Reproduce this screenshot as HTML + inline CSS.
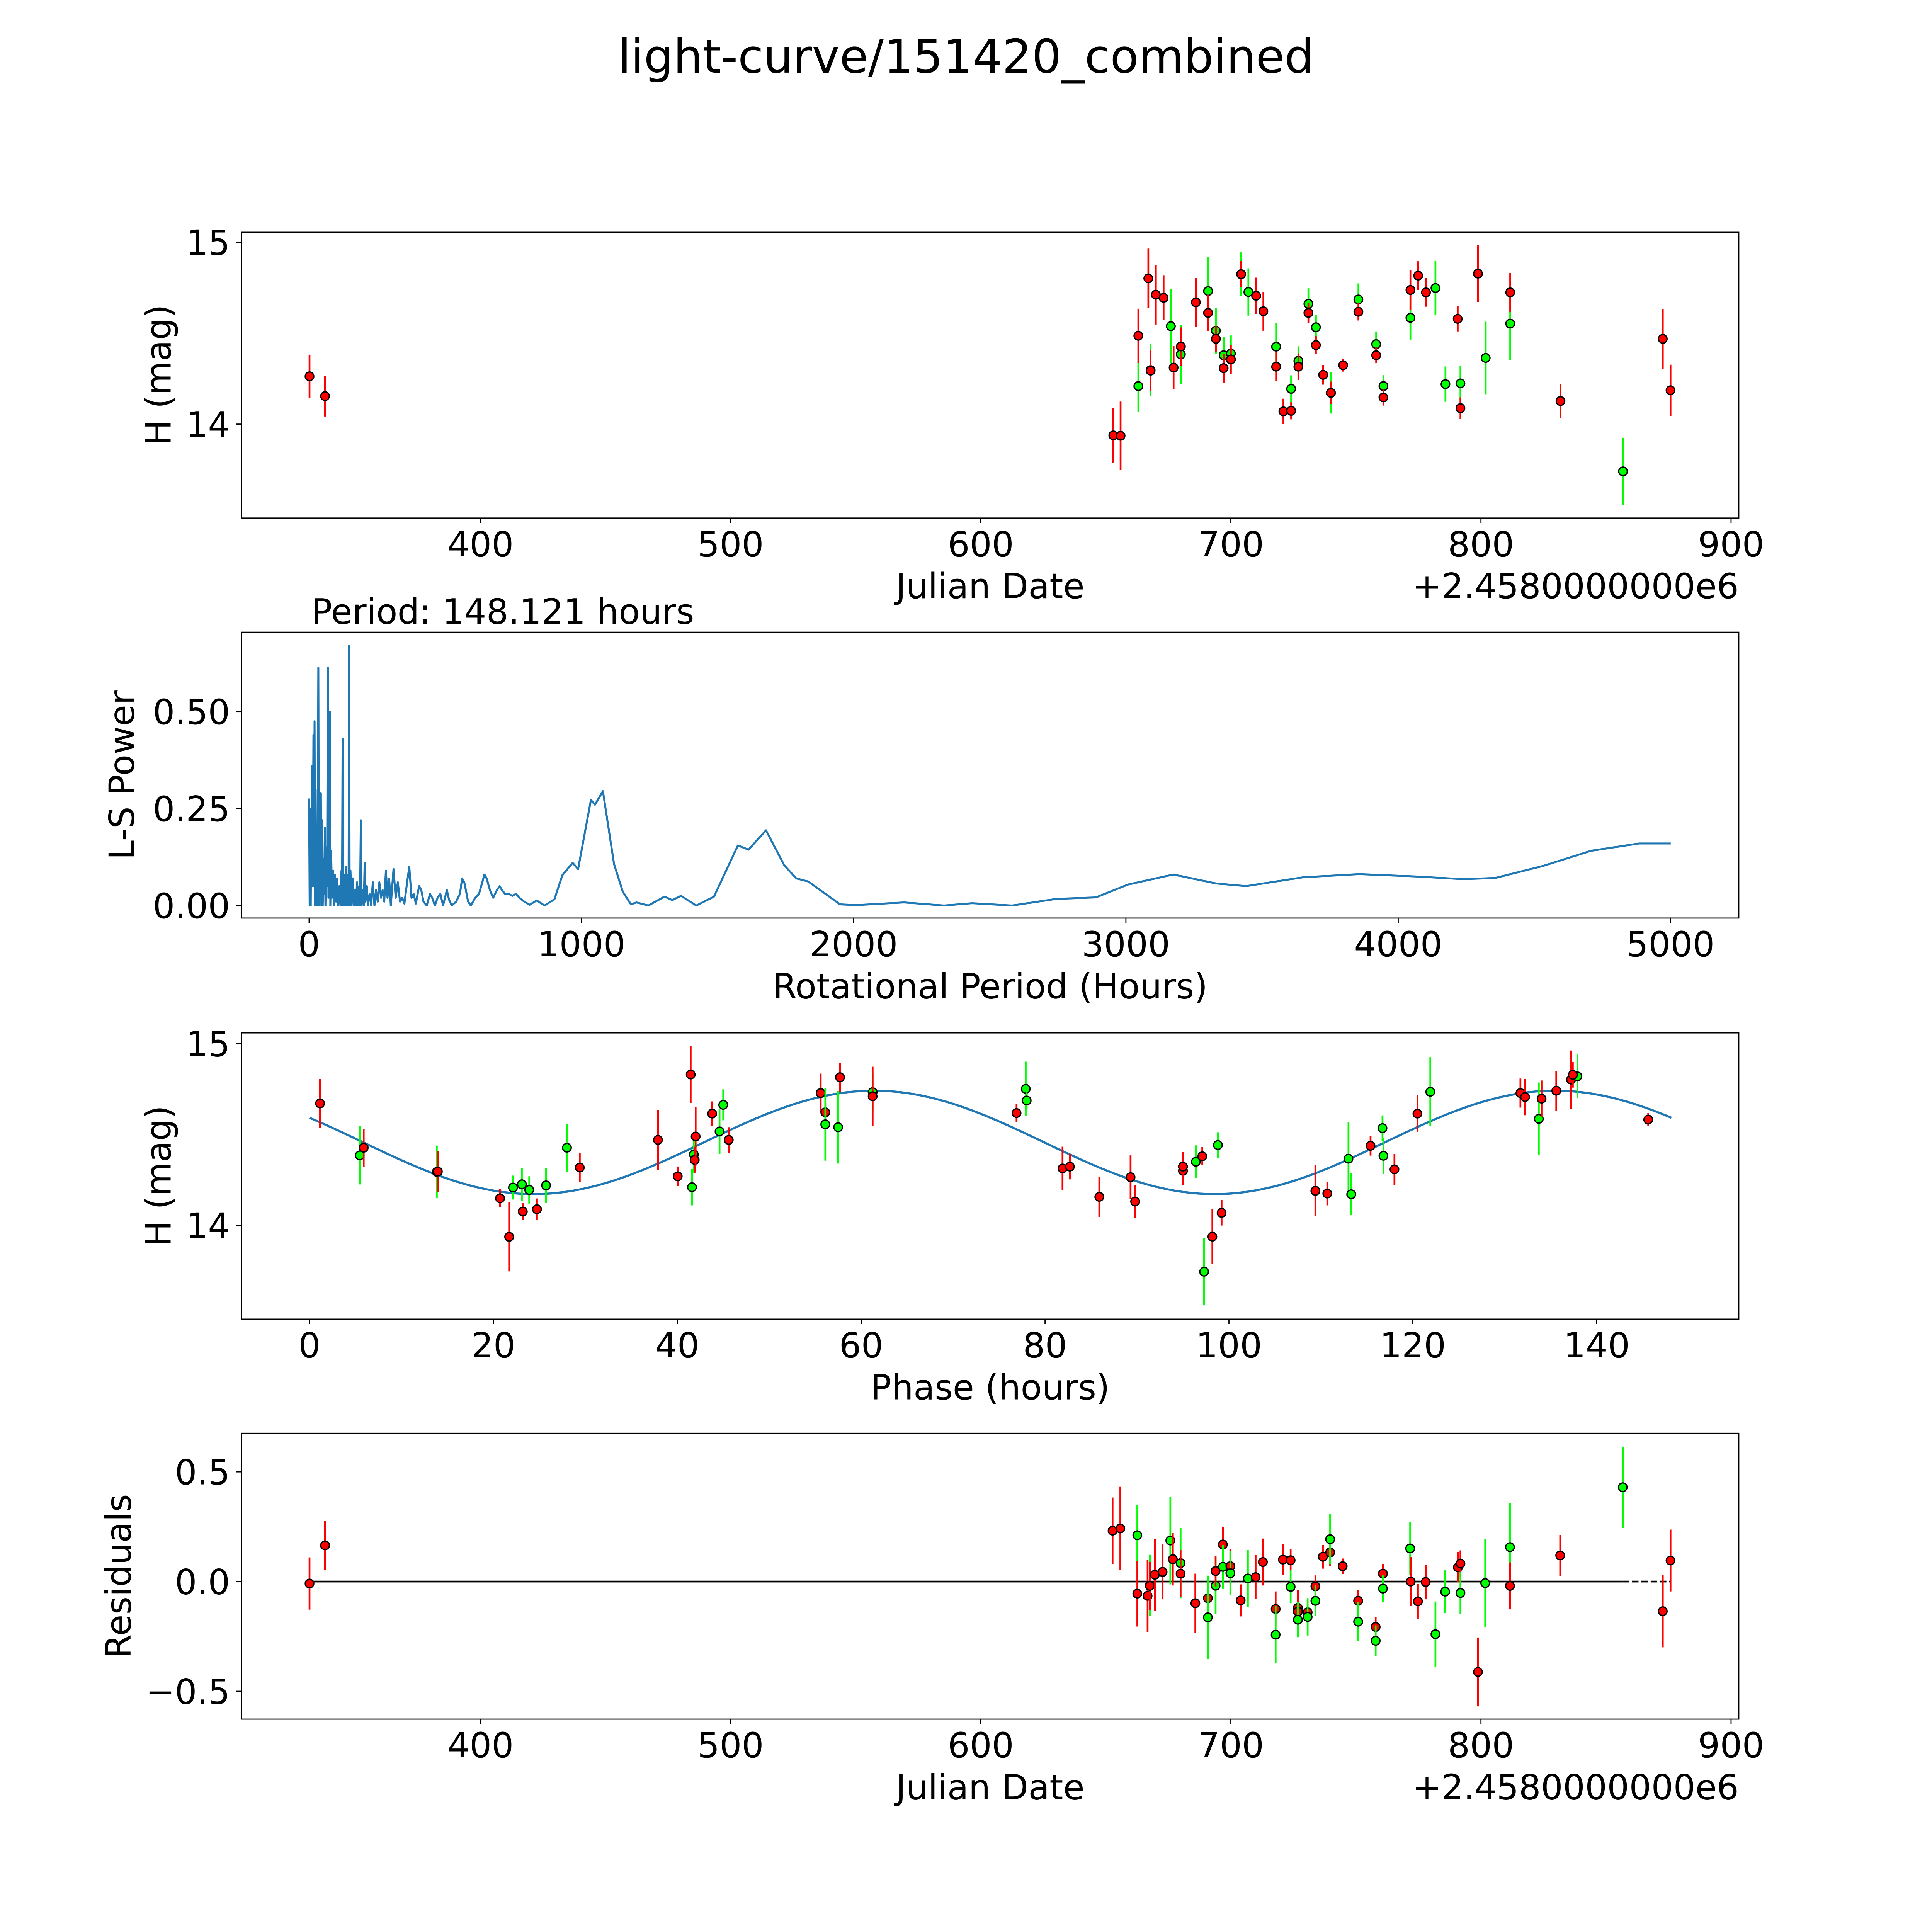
<!DOCTYPE html>
<html><head><meta charset="utf-8"><title>light-curve/151420_combined</title>
<style>html,body{margin:0;padding:0;background:#fff;overflow:hidden;width:100vw;height:100vh}svg{display:block;width:100vw;height:100vh}text{font-family:"DejaVu Sans","Liberation Sans",sans-serif;fill:#000}</style>
</head><body>
<svg id="fig" xmlns="http://www.w3.org/2000/svg" viewBox="0 0 5400 5400" preserveAspectRatio="none">
<rect width="5400" height="5400" fill="#fff"/>
<text x="2700" y="203" font-size="130" text-anchor="middle">light-curve/151420_combined</text>
</svg>
<script>
// ---- Panel 1: light curve (JD - 2458000, H mag, error, filter) ----
const lcDay=[331.6,337.8,653.0,655.9,663.0,663.0,667.0,667.9,667.9,670.0,673.1,676.0,677.1,680.0,680.0,686.0,690.9,690.9,694.0,694.0,697.1,697.1,700.0,700.0,704.1,704.1,707.0,710.1,713.0,718.1,718.1,721.0,724.1,724.1,727.0,727.0,731.0,731.0,734.0,734.0,736.9,740.0,740.0,744.9,751.0,751.0,758.1,758.1,761.0,761.0,771.8,771.8,774.9,778.0,781.8,785.8,790.7,791.8,791.8,798.8,801.9,811.7,811.7,831.8,856.8,872.7,875.8];
const lcMag=[14.263,14.154,13.938,13.936,14.209,14.486,14.802,14.297,14.294,14.712,14.695,14.539,14.311,14.384,14.427,14.67,14.732,14.612,14.514,14.469,14.379,14.308,14.388,14.356,14.825,14.825,14.727,14.706,14.621,14.426,14.316,14.07,14.194,14.073,14.348,14.316,14.662,14.612,14.533,14.435,14.271,14.172,14.172,14.324,14.686,14.618,14.44,14.379,14.209,14.147,14.585,14.738,14.817,14.725,14.749,14.22,14.579,14.224,14.088,14.828,14.364,14.553,14.725,14.127,13.74,14.469,14.186];
const lcErr=[0.119,0.112,0.151,0.188,0.14,0.149,0.164,0.142,0.113,0.164,0.124,0.205,0.119,0.162,0.105,0.134,0.19,0.099,0.127,0.07,0.1,0.08,0.1,0.08,0.12,0.073,0.13,0.1,0.107,0.129,0.08,0.07,0.074,0.047,0.08,0.073,0.085,0.054,0.07,0.05,0.054,0.114,0.062,0.035,0.088,0.048,0.07,0.044,0.06,0.045,0.12,0.111,0.079,0.079,0.149,0.097,0.069,0.095,0.059,0.157,0.2,0.2,0.107,0.093,0.185,0.165,0.141];
const lcBand=["r","r","r","r","g","r","r","g","r","r","r","g","r","g","r","r","g","r","g","r","g","r","g","r","g","r","g","r","r","g","r","r","g","r","g","r","g","r","g","r","r","g","r","r","g","r","g","r","g","r","g","r","r","r","g","g","r","g","r","r","g","g","r","r","g","r","r"];

// ---- Panel 2: Lomb-Scargle periodogram ----
const lsPeriod=[0,2,4,6,8,10,12,14,16,18,20,22,24,26,28,30,32,34,36,38,40,43,45,48,50,53,55,58,60,63,66,69,71,73,76,78,81,84,88,91,95,99,103,107,111,115,119,121,123,125,129,132,136,139,143,145,147,149,152,156,160,164,168,172,176,180,184,187,190,193,198,201,204,207,212,216,222,228,234,240,246,252,258,264,270,276,282,288,294,300,310,318,326,334,342,350,360,368,376,384,392,404,412,420,432,444,452,462,472,482,492,506,514,524,540,554,562,570,584,594,610,624,636,644,652,664,676,690,700,708,720,734,746,760,772,790,810,836,865,901,930,968,988,1035,1050,1079,1120,1152,1182,1202,1246,1305,1334,1366,1422,1487,1575,1614,1678,1745,1789,1833,1950,2009,2185,2332,2435,2582,2743,2890,3007,3174,3330,3441,3652,3857,4063,4239,4356,4532,4708,4884,5001];
const lsPower=[0.276,0,0.21,0,0.25,0.05,0.36,0.1,0.44,0.05,0.475,0,0.3,0.08,0.2,0,0.15,0.613,0,0.1,0.05,0.29,0,0.22,0,0.12,0.03,0.2,0,0.15,0.05,0.613,0.02,0.1,0.5,0,0.14,0.02,0.09,0,0.08,0.01,0.07,0,0.05,0,0.09,0,0.43,0,0.08,0,0.1,0,0.08,0,0.67,0,0.09,0,0.07,0,0.04,0,0.06,0,0.05,0,0.22,0,0.04,0,0.11,0.01,0.05,0,0.03,0,0.06,0,0.04,0.01,0.06,0.02,0.04,0.01,0.09,0.02,0.07,0,0.094,0.02,0.06,0.01,0.02,0.005,0.06,0.1,0.02,0.03,0.005,0.05,0.04,0.01,0,0.03,0.02,0,0.02,0.03,0,0.04,0.015,0,0.01,0.03,0.07,0.06,0.01,0,0.02,0.03,0.06,0.08,0.07,0.04,0.02,0.04,0.05,0.04,0.03,0.03,0.025,0.03,0.02,0.01,0.002,0.013,0,0.016,0.078,0.11,0.094,0.272,0.26,0.295,0.107,0.036,0.003,0.008,0,0.023,0.014,0.025,0,0.023,0.155,0.144,0.194,0.104,0.07,0.062,0.003,0.001,0.008,0,0.006,0,0.017,0.021,0.054,0.08,0.057,0.05,0.073,0.081,0.075,0.068,0.071,0.102,0.141,0.16,0.16];

// ---- Panel 3: phase-folded light curve ----
const phHour=[1.15,5.47,5.9,13.85,13.96,20.73,21.72,22.14,23.1,23.2,23.9,24.74,25.73,28.0,29.4,37.9,40.05,41.46,41.6,41.8,41.9,42.0,43.8,44.6,45.0,45.6,55.6,56.1,56.1,57.5,57.7,61.25,61.25,76.9,77.9,78.0,81.9,82.7,85.9,89.3,89.8,95.0,95.0,96.4,97.1,97.3,98.2,98.8,99.2,109.4,110.7,113.0,113.3,115.4,116.7,116.8,118.0,120.5,121.9,131.7,132.2,133.7,134.0,135.6,137.2,137.9,137.4,145.6];
const phMag=[14.671,14.385,14.427,14.294,14.296,14.149,13.937,14.208,14.226,14.076,14.195,14.089,14.22,14.427,14.318,14.47,14.27,14.83,14.21,14.39,14.36,14.489,14.615,14.517,14.663,14.47,14.728,14.622,14.556,14.54,14.815,14.733,14.71,14.618,14.751,14.687,14.313,14.323,14.157,14.265,14.131,14.3,14.323,14.35,14.38,13.745,13.938,14.442,14.069,14.19,14.175,14.367,14.171,14.438,14.535,14.383,14.308,14.615,14.735,14.728,14.706,14.586,14.697,14.741,14.802,14.82,14.828,14.582];
const phErr=[0.135,0.16,0.105,0.145,0.112,0.05,0.19,0.066,0.09,0.047,0.075,0.059,0.097,0.132,0.08,0.165,0.054,0.157,0.1,0.1,0.07,0.16,0.067,0.125,0.085,0.07,0.107,0.05,0.2,0.2,0.08,0.1,0.163,0.05,0.15,0.044,0.12,0.07,0.11,0.12,0.09,0.08,0.08,0.09,0.05,0.185,0.15,0.07,0.07,0.14,0.065,0.2,0.115,0.054,0.07,0.1,0.085,0.1,0.19,0.08,0.1,0.2,0.1,0.11,0.16,0.12,0.07,0.035];
const phBand=["r","g","r","g","r","r","r","g","g","r","g","r","g","g","r","r","r","r","g","g","r","r","r","g","g","r","r","r","g","g","r","g","r","r","g","g","r","r","r","r","r","r","r","g","r","g","r","g","r","r","r","g","g","r","g","g","r","r","g","r","r","g","r","r","r","g","r","r"];
// fitted double-peaked sinusoid (mean, amplitude, phase of max, rotation period in hours)
const fitMean=14.4565, fitAmp=0.2845, fitPeak=61.4, fitPeriod=148.121;

// ---- Panel 4: residuals ----
const resDay=[331.6,337.8,652.7,655.8,662.6,662.6,666.7,667.6,667.6,669.6,672.7,675.8,676.8,679.9,679.9,685.8,690.8,690.8,693.9,693.9,696.8,696.8,699.8,699.8,703.9,706.8,709.9,712.8,717.9,717.9,720.8,723.9,723.9,726.8,726.8,726.8,730.7,730.7,733.8,733.8,736.8,739.7,739.7,744.7,750.9,750.9,757.9,757.9,760.8,760.8,771.7,771.9,774.8,777.9,781.8,785.7,790.8,791.8,791.8,798.8,801.7,811.6,811.6,831.7,856.7,872.7,875.8];
const resVal=[-0.009,0.165,0.232,0.242,0.211,-0.055,-0.065,-0.018,-0.02,0.031,0.044,0.187,0.102,0.084,0.036,-0.099,-0.076,-0.163,-0.019,0.048,0.169,0.067,0.07,0.038,-0.086,0.014,0.02,0.089,-0.125,-0.242,0.1,0.097,-0.024,-0.12,-0.137,-0.174,-0.14,-0.161,-0.022,-0.088,0.113,0.133,0.193,0.07,-0.088,-0.183,-0.207,-0.27,0.036,-0.032,0.151,0.0,-0.09,-0.002,-0.24,-0.046,0.065,0.082,-0.052,-0.412,-0.007,0.157,-0.02,0.119,0.43,-0.135,0.096];
const resErr=[0.119,0.111,0.151,0.19,0.136,0.15,0.165,0.14,0.11,0.163,0.125,0.2,0.12,0.16,0.107,0.135,0.1,0.19,0.13,0.07,0.08,0.1,0.08,0.1,0.073,0.13,0.1,0.107,0.08,0.13,0.07,0.05,0.075,0.08,0.07,0.08,0.054,0.085,0.05,0.07,0.054,0.062,0.114,0.035,0.048,0.088,0.044,0.07,0.045,0.06,0.12,0.111,0.079,0.079,0.149,0.097,0.069,0.06,0.095,0.157,0.2,0.2,0.107,0.093,0.185,0.165,0.141];
const resBand=["r","r","r","r","g","r","r","g","r","r","r","g","r","g","r","r","r","g","g","r","r","g","r","g","r","g","r","r","r","g","r","r","g","r","r","g","r","g","r","g","r","r","g","r","r","g","r","g","r","g","g","r","r","r","g","g","r","r","g","r","g","g","r","r","g","r","r"];

// tick labels
const jdTicks=[400,500,600,700,800,900];
const lcYTicks=[14,15];
const lsXTicks=[0,1000,2000,3000,4000,5000];
const lsYTicks=[0,0.25,0.5];
const lsYLabels=["0.00","0.25","0.50"];
const phXTicks=[0,20,40,60,80,100,120,140];
const resYTicks=[-0.5,0,0.5];
const resYLabels=["\u22120.5","0.0","0.5"];

const NS="http://www.w3.org/2000/svg";
const svg=document.getElementById("fig");
const COL={r:"#ff0000",g:"#00ff00"};
function mk(tag,attrs,parent){const e=document.createElementNS(NS,tag);for(const k in attrs)e.setAttribute(k,attrs[k]);(parent||svg).appendChild(e);return e;}
function axes(cfg){
  const g=mk("g",{});
  
  
  cfg.g=g;
  cfg.sx=v=>cfg.left+(v-cfg.xmin)/(cfg.xmax-cfg.xmin)*(cfg.right-cfg.left);
  cfg.sy=v=>cfg.bottom-(v-cfg.ymin)/(cfg.ymax-cfg.ymin)*(cfg.bottom-cfg.top);
  return cfg;
}
function frame(a,xt,xl,yt,yl,xlabel,ylabel,ylabX,offset){
  const g=a.g;
  const sp=mk("rect",{x:a.left,y:a.top,width:a.right-a.left,height:a.bottom-a.top,fill:"none",stroke:"#000","stroke-width":3},g);
  
  
  xt.forEach((v,i)=>{const x=a.sx(v);
    const t=mk("line",{x1:x,x2:x,y1:a.bottom,y2:a.bottom+14,stroke:"#000","stroke-width":3},g);
    
    
    const tx=mk("text",{x:x,y:a.bottom+107,"font-size":97,"text-anchor":"middle"},g);tx.textContent=xl[i];
    
    
  });
  yt.forEach((v,i)=>{const y=a.sy(v);
    const t=mk("line",{x1:a.left-14,x2:a.left,y1:y,y2:y,stroke:"#000","stroke-width":3},g);
    
    
    const tx=mk("text",{x:a.left-32,y:y+35,"font-size":97,"text-anchor":"end"},g);tx.textContent=yl[i];
    
    
  });
  const xlab=mk("text",{x:(a.left+a.right)/2,y:a.bottom+224,"font-size":97,"text-anchor":"middle"},g);xlab.textContent=xlabel;
  
  
  const cy=(a.top+a.bottom)/2;
  const ylab=mk("text",{x:0,y:0,"font-size":97,"text-anchor":"middle",transform:`translate(${ylabX},${cy}) rotate(-90)`},g);ylab.textContent=ylabel;
  
  
  if(offset){const o=mk("text",{x:a.right,y:a.bottom+224,"font-size":97,"text-anchor":"end"},g);o.textContent=offset;
    
    }
}
function errPoints(a,xs,ys,es,bs,label){
  const g=mk("g",{},a.g);
  
  
  for(let i=0;i<xs.length;i++){
    const x=a.sx(xs[i]);
    const b=mk("line",{x1:x,x2:x,y1:a.sy(ys[i]+es[i]),y2:a.sy(ys[i]-es[i]),stroke:COL[bs[i]],"stroke-width":5},g);
    
    
    const c=mk("circle",{cx:x,cy:a.sy(ys[i]),r:12,fill:COL[bs[i]],stroke:"#000","stroke-width":3.5},g);
    
    
  }
}

// Panel 1
const a1=axes({name:"light-curve-panel",left:675,right:4860,top:649,bottom:1448,xmin:304.4,xmax:903.1,ymin:13.483,ymax:15.056});
frame(a1,jdTicks,jdTicks.map(String),lcYTicks,lcYTicks.map(String),"Julian Date","H (mag)",477,"+2.4580000000e6");
errPoints(a1,lcDay,lcMag,lcErr,lcBand,"light-curve");

// Panel 2
const a2=axes({name:"periodogram-panel",left:675,right:4860,top:1767,bottom:2566,xmin:-248.3,xmax:5251,ymin:-0.0323,ymax:0.7048});
frame(a2,lsXTicks,lsXTicks.map(String),lsYTicks,lsYLabels,"Rotational Period (Hours)","L-S Power",374,null);
{let d="";for(let i=0;i<lsPeriod.length;i++){d+=(i?"L":"M")+a2.sx(lsPeriod[i]).toFixed(1)+","+a2.sy(lsPower[i]).toFixed(1);}
 const p=mk("path",{d:d,fill:"none",stroke:"#1f77b4","stroke-width":5.5,"stroke-linejoin":"round"},a2.g);
 
 
 const pt=mk("text",{x:870,y:1743,"font-size":97},a2.g);pt.textContent="Period: 148.121 hours";
 
 }

// Panel 3
const a3=axes({name:"phase-panel",left:675,right:4860,top:2887,bottom:3687,xmin:-7.39,xmax:155.45,ymin:13.484,ymax:15.059});
frame(a3,phXTicks,phXTicks.map(String),lcYTicks,lcYTicks.map(String),"Phase (hours)","H (mag)",477,null);
{let d="";const n=300;for(let i=0;i<=n;i++){const p=fitPeriod*i/n;const m=fitMean+fitAmp*Math.cos(2*Math.PI*(p-fitPeak)/(fitPeriod/2));
  d+=(i?"L":"M")+a3.sx(p).toFixed(1)+","+a3.sy(m).toFixed(1);}
 const p=mk("path",{d:d,fill:"none",stroke:"#1f77b4","stroke-width":6},a3.g);
 
 }
errPoints(a3,phHour,phMag,phErr,phBand,"phase");

// Panel 4
const a4=axes({name:"residuals-panel",left:675,right:4860,top:4006,bottom:4805,xmin:304.4,xmax:903.1,ymin:-0.627,ymax:0.676});
frame(a4,jdTicks,jdTicks.map(String),resYTicks,resYLabels,"Julian Date","Residuals",365,"+2.4580000000e6");
{const y0=a4.sy(0);
 const l1=mk("line",{x1:a4.sx(resDay[0]),x2:a4.sx(856.7),y1:y0,y2:y0,stroke:"#000","stroke-width":5},a4.g);
 
 
 const l2=mk("line",{x1:a4.sx(856.7),x2:a4.sx(resDay[resDay.length-1]),y1:y0,y2:y0,stroke:"#000","stroke-width":5,"stroke-dasharray":"18 8"},a4.g);
 
 }
errPoints(a4,resDay,resVal,resErr,resBand,"residual");
</script>
</body></html>
